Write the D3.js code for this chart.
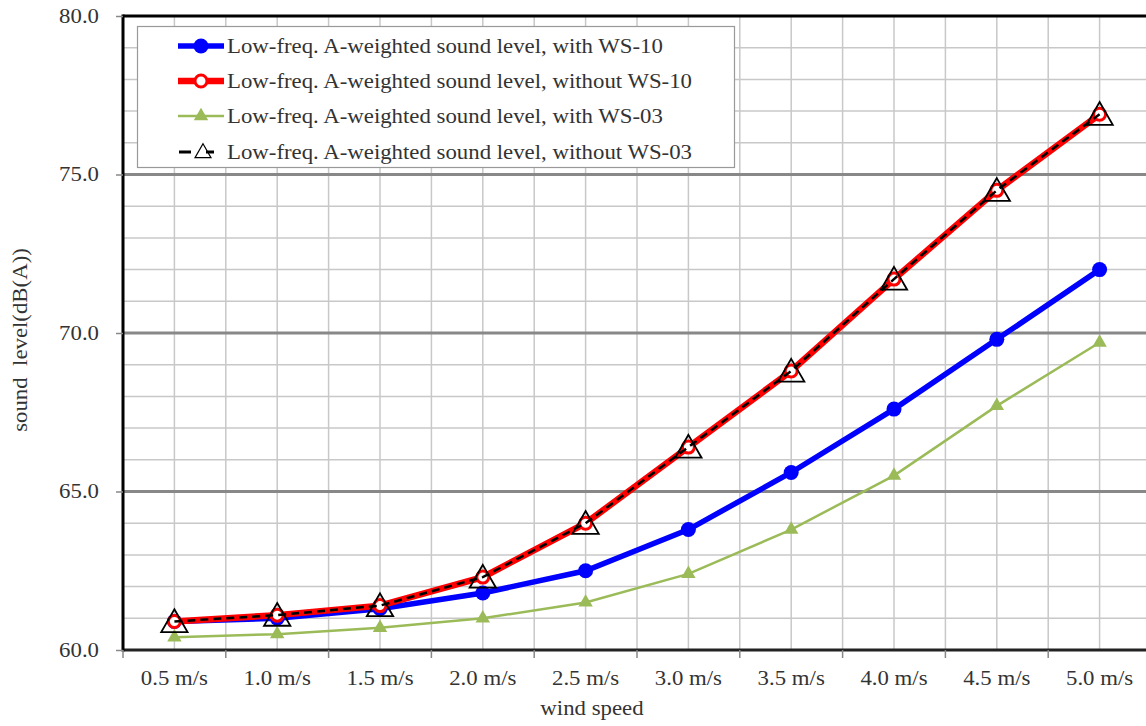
<!DOCTYPE html>
<html>
<head>
<meta charset="utf-8">
<script src="https://cdn.jsdelivr.net/npm/d3@7"></script>
<style>
  body { margin: 0; background: #fff; }
  text { font-family: "Liberation Serif", "DejaVu Serif", serif; fill: #333; }
</style>
</head>
<body>
<script>
// canvas size and plot box
const w = 1146;
const h = 726;
const plotL = 123, plotR = 1151, plotT = 16, plotB = 650;
const stretch = 1.14; // the text in the picture is a bit wider than normal

// data
const speeds = ["0.5 m/s", "1.0 m/s", "1.5 m/s", "2.0 m/s", "2.5 m/s",
  "3.0 m/s", "3.5 m/s", "4.0 m/s", "4.5 m/s", "5.0 m/s"];
const withWS10 = [60.9, 61.0, 61.3, 61.8, 62.5, 63.8, 65.6, 67.6, 69.8, 72.0];
const withoutWS10 = [60.9, 61.1, 61.4, 62.3, 64.0, 66.4, 68.8, 71.7, 74.5, 76.9];
const withWS03 = [60.4, 60.5, 60.7, 61.0, 61.5, 62.4, 63.8, 65.5, 67.7, 69.7];
const withoutWS03 = [60.9, 61.1, 61.4, 62.3, 64.0, 66.4, 68.8, 71.7, 74.5, 76.9];
const yTicks = [60, 65, 70, 75, 80];

const seriesNames = [
  "Low-freq. A-weighted sound level, with WS-10",
  "Low-freq. A-weighted sound level, without WS-10",
  "Low-freq. A-weighted sound level, with WS-03",
  "Low-freq. A-weighted sound level, without WS-03"
];

const svg = d3.select("body").append("svg").attr("width", w).attr("height", h);

const x = d3.scaleBand().domain(speeds).range([plotL, plotR]).padding(0);
const y = d3.scaleLinear().domain([60, 80]).range([plotB, plotT]);
const cx = d => x(d) + x.bandwidth() / 2;

// minor horizontal grid, every 1 dB
svg.append("g")
  .selectAll("line")
  .data(d3.range(61, 80).filter(v => v % 5 !== 0))
  .enter()
  .append("line")
  .attr("x1", plotL).attr("x2", plotR)
  .attr("y1", d => y(d)).attr("y2", d => y(d))
  .attr("stroke", "#c8c8c8").attr("stroke-width", 1.5);

// vertical grid at band edges and centers
const vx = [];
speeds.forEach(s => { vx.push(x(s)); vx.push(cx(s)); });
svg.append("g")
  .selectAll("line")
  .data(vx.slice(1))
  .enter()
  .append("line")
  .attr("x1", d => d).attr("x2", d => d)
  .attr("y1", plotT).attr("y2", plotB)
  .attr("stroke", "#c8c8c8").attr("stroke-width", 1.5);

// major horizontal grid
svg.append("g")
  .selectAll("line")
  .data([65, 70, 75])
  .enter()
  .append("line")
  .attr("x1", plotL).attr("x2", plotR)
  .attr("y1", d => y(d)).attr("y2", d => y(d))
  .attr("stroke", "#888").attr("stroke-width", 3);

// frame: top, left and bottom
svg.append("line").attr("x1", plotL).attr("x2", plotR).attr("y1", plotT).attr("y2", plotT)
  .attr("stroke", "#000").attr("stroke-width", 3);
svg.append("line").attr("x1", plotL).attr("x2", plotR).attr("y1", plotB).attr("y2", plotB)
  .attr("stroke", "#222").attr("stroke-width", 3);
svg.append("line").attr("x1", plotL).attr("x2", plotL).attr("y1", plotT - 1.5).attr("y2", plotB + 1.5)
  .attr("stroke", "#000").attr("stroke-width", 3);

// y axis
const yAxis = svg.append("g")
  .attr("transform", "translate(" + plotL + ",0)")
  .call(d3.axisLeft(y).tickValues(yTicks).tickFormat(d3.format(".1f")).tickSize(7).tickPadding(17));
yAxis.select(".domain").remove();
yAxis.selectAll(".tick line").attr("stroke", "#888").attr("stroke-width", 1.5);
yAxis.selectAll("text").attr("font-size", 20).attr("fill", "#333");

// x axis: ticks at band edges, labels at centers
svg.append("g")
  .selectAll("line")
  .data(speeds)
  .enter()
  .append("line")
  .attr("x1", d => x(d)).attr("x2", d => x(d))
  .attr("y1", plotB).attr("y2", plotB + 8)
  .attr("stroke", "#888").attr("stroke-width", 1.5);
svg.append("g")
  .selectAll("text")
  .data(speeds)
  .enter()
  .append("text")
  .attr("x", d => cx(d))
  .attr("y", 685)
  .attr("text-anchor", "middle")
  .attr("font-size", 20)
  .text(d => d);

// axis titles
svg.append("text").attr("x", 592).attr("y", 715).attr("text-anchor", "middle")
  .attr("font-size", 20).text("wind speed");
svg.append("text")
  .attr("transform", "translate(27,340) rotate(-90)")
  .attr("text-anchor", "middle")
  .attr("font-size", 20)
  .style("white-space", "pre")
  .text("sound  level(dB(A))");

const line = d3.line().x((d, i) => cx(speeds[i])).y(d => y(d));
const tri = s => d3.symbol().type(d3.symbolTriangle).size(s)();

// green, with WS-03
svg.append("path").datum(withWS03).attr("d", line)
  .attr("fill", "none").attr("stroke", "#9bbb59").attr("stroke-width", 2.5);
svg.append("g").selectAll("path").data(withWS03).enter().append("path")
  .attr("d", tri(90))
  .attr("transform", (d, i) => "translate(" + cx(speeds[i]) + "," + y(d) + ")")
  .attr("fill", "#9bbb59");

// blue, with WS-10
svg.append("path").datum(withWS10).attr("d", line)
  .attr("fill", "none").attr("stroke", "#0000ff").attr("stroke-width", 5.5);
svg.append("g").selectAll("circle").data(withWS10).enter().append("circle")
  .attr("cx", (d, i) => cx(speeds[i])).attr("cy", d => y(d)).attr("r", 7.5)
  .attr("fill", "#0000ff");

// red, without WS-10
svg.append("path").datum(withoutWS10).attr("d", line)
  .attr("fill", "none").attr("stroke", "#ff0000").attr("stroke-width", 6.5);
svg.append("g").selectAll("circle").data(withoutWS10).enter().append("circle")
  .attr("cx", (d, i) => cx(speeds[i])).attr("cy", d => y(d)).attr("r", 6)
  .attr("fill", "#fff").attr("stroke", "#ff0000").attr("stroke-width", 3);

// black dashed, without WS-03
svg.append("path").datum(withoutWS03).attr("d", line)
  .attr("fill", "none").attr("stroke", "#000").attr("stroke-width", 2.5)
  .attr("stroke-dasharray", "8,5");
svg.append("g").selectAll("path").data(withoutWS03).enter().append("path")
  .attr("d", tri(300))
  .attr("transform", (d, i) => "translate(" + cx(speeds[i]) + "," + (y(d) + 3) + ")")
  .attr("fill", "none").attr("stroke", "#000").attr("stroke-width", 1.8);

// legend
const lg = svg.append("g");
lg.append("rect").attr("x", 137.5).attr("y", 26.5).attr("width", 597).attr("height", 141)
  .attr("fill", "#fff").attr("stroke", "#999").attr("stroke-width", 1.2);
const rows = [46, 81, 116, 152];
const lx1 = 178, lx2 = 224, lm = 201;
// row 1
lg.append("line").attr("x1", lx1).attr("x2", lx2).attr("y1", rows[0]).attr("y2", rows[0])
  .attr("stroke", "#0000ff").attr("stroke-width", 5.5);
lg.append("circle").attr("cx", lm).attr("cy", rows[0]).attr("r", 7.5).attr("fill", "#0000ff");
// row 2
lg.append("line").attr("x1", lx1).attr("x2", lx2).attr("y1", rows[1]).attr("y2", rows[1])
  .attr("stroke", "#ff0000").attr("stroke-width", 6.5);
lg.append("circle").attr("cx", lm).attr("cy", rows[1]).attr("r", 6)
  .attr("fill", "#fff").attr("stroke", "#ff0000").attr("stroke-width", 3);
// row 3
lg.append("line").attr("x1", lx1).attr("x2", lx2).attr("y1", rows[2]).attr("y2", rows[2])
  .attr("stroke", "#9bbb59").attr("stroke-width", 2.5);
lg.append("path").attr("d", tri(90))
  .attr("transform", "translate(" + lm + "," + rows[2] + ")").attr("fill", "#9bbb59");
// row 4
lg.append("line").attr("x1", 179).attr("x2", 191).attr("y1", rows[3]).attr("y2", rows[3])
  .attr("stroke", "#000").attr("stroke-width", 3);
lg.append("line").attr("x1", 206).attr("x2", 214).attr("y1", rows[3]).attr("y2", rows[3])
  .attr("stroke", "#000").attr("stroke-width", 3);
lg.append("path").attr("d", tri(110))
  .attr("transform", "translate(203," + (rows[3] + 1) + ")")
  .attr("fill", "none").attr("stroke", "#000").attr("stroke-width", 1.2);

lg.selectAll("text.lab")
  .data(seriesNames)
  .enter()
  .append("text")
  .attr("class", "lab")
  .attr("x", 227)
  .attr("y", (d, i) => rows[i] + 7)
  .attr("font-size", 20)
  .text(d => d);

// widen every label a little, like the picture
svg.selectAll("text").each(function () {
  const len = this.getComputedTextLength();
  d3.select(this).attr("textLength", len * stretch).attr("lengthAdjust", "spacingAndGlyphs");
});
</script>
</body>
</html>
